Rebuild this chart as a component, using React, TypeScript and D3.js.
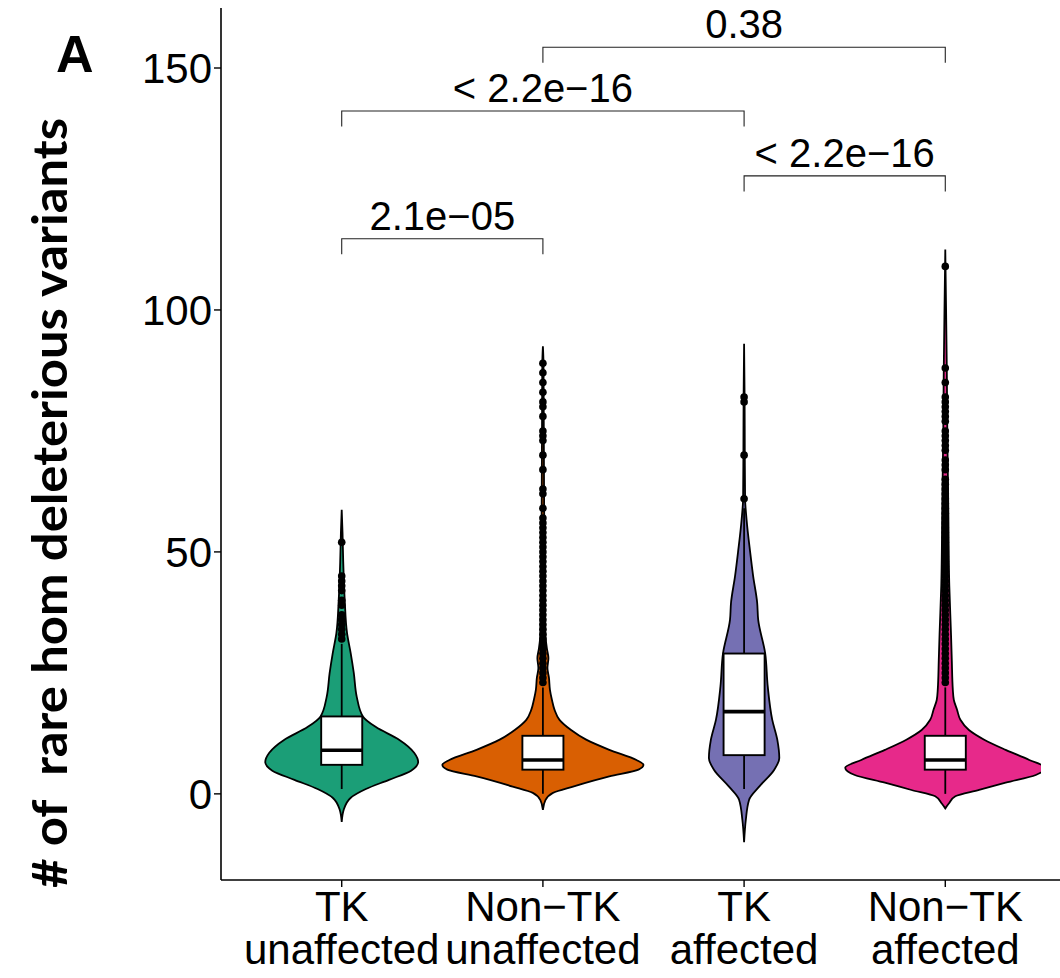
import React from "react";
import * as d3 from "d3";

// Groups along the x axis
const categories = ["TK unaffected", "Non-TK unaffected", "TK affected", "Non-TK affected"];
const tickLabelLines = [
  ["TK", "unaffected"],
  ["Non\u2212TK", "unaffected"],
  ["TK", "affected"],
  ["Non\u2212TK", "affected"],
];
const groupFills = ["#1B9E77", "#D95F02", "#7570B3", "#E7298A"];

// Kernel density profiles per group: [count, relative density]
const densityTKUnaffected: [number, number][] = [
  [-5.8, 0], [-3.3, 0.02], [-0.8, 0.09], [1, 0.24], [2.9, 0.47], [4.8, 0.69],
  [6.6, 0.76], [8.5, 0.72], [11.2, 0.57], [13.8, 0.34], [16, 0.21], [20, 0.15],
  [25, 0.12], [29, 0.09], [33.2, 0.053], [40, 0.03], [48, 0.015], [54, 0.008], [58.7, 0],
];
const densityNonTKUnaffected: [number, number][] = [
  [-3.3, 0], [-1.3, 0.025], [0.2, 0.1], [1.5, 0.3], [3.6, 0.66], [5, 0.95], [6, 1.0],
  [7, 0.93], [9.1, 0.66], [11.2, 0.43], [13.2, 0.28], [15.3, 0.165], [17.4, 0.115],
  [19.4, 0.09], [21.5, 0.07], [24, 0.06], [26, 0.045], [28, 0.055], [30, 0.04],
  [33, 0.025], [40, 0.02], [50, 0.015], [60, 0.012], [70, 0.01], [80, 0.008],
  [89, 0.006], [92.5, 0],
];
const densityTKAffected: [number, number][] = [
  [-10, 0], [-5.4, 0.017], [-1.2, 0.05], [1.5, 0.15], [5, 0.3], [7.4, 0.35],
  [11.2, 0.33], [15.3, 0.28], [22.2, 0.235], [29, 0.21], [36, 0.14], [39.5, 0.13],
  [45, 0.09], [50, 0.06], [56.6, 0.025], [61, 0.01], [70, 0.007], [82, 0.005], [93, 0],
];
const densityNonTKAffected: [number, number][] = [
  [-3, 0], [-2, 0.035], [-0.5, 0.1], [0.8, 0.336], [2.3, 0.6], [3.9, 0.9], [5.4, 0.995],
  [7, 0.835], [9.1, 0.6], [11.2, 0.387], [13.2, 0.235], [15.3, 0.15], [17.4, 0.117],
  [19.4, 0.085], [21.5, 0.075], [27.5, 0.065], [33, 0.057], [43, 0.04], [59, 0.03],
  [75, 0.02], [88, 0.015], [100, 0.008], [112.5, 0],
];
const densities = [densityTKUnaffected, densityNonTKUnaffected, densityTKAffected, densityNonTKAffected];

// Boxplot summaries: [lower whisker, Q1, median, Q3, upper whisker]
const boxTKUnaffected = [1, 6, 9, 16, 31];
const boxNonTKUnaffected = [0, 5, 7, 12, 22];
const boxTKAffected = [1, 8, 17, 29, 59];
const boxNonTKAffected = [0, 5, 7, 12, 22];
const boxes = [boxTKUnaffected, boxNonTKUnaffected, boxTKAffected, boxNonTKAffected];

// Outlying counts beyond the whiskers
const outliersTKUnaffected = [52, 45, 44, 43, 42, 40, 39, 37, 36, 35, 34, 33, 32];
const outliersNonTKUnaffected = [
  89, 87, 85, 83, 81, 80, 78, 75, 74, 73, 70, 67, 63, 62, 59, 57, 56, 55, 54, 53,
  52, 51, 50, 49, 48, 47, 46, 45, 44, 43, 42, 41, 40, 39, 38, 37, 36, 35, 34, 33,
  32, 31, 30, 29, 28, 27, 26, 25, 24, 23,
];
const outliersTKAffected = [82, 81, 70, 61];
const outliersNonTKAffected = [
  109, 88, 85, 82, 81, 80, 79, 78, 77, 75, 74, 73, 72, 71, 69, 68, 67, 65, 64, 63,
  62, 61, 60, 59, 58, 57, 56, 55, 54, 53, 52, 51, 50, 49, 48, 47, 46, 45, 44, 43,
  42, 41, 40, 39, 38, 37, 36, 35, 34, 33, 32, 31, 30, 29, 28, 27, 26, 25, 24, 23,
];
const outliers = [outliersTKUnaffected, outliersNonTKUnaffected, outliersTKAffected, outliersNonTKAffected];

const yTicks = [0, 50, 100, 150];

// Pairwise tests: group indices (1-based), bracket height and p-value label
const comparisonFrom = [1, 1, 3, 2];
const comparisonTo = [2, 3, 4, 4];
const comparisonHeight = [114.7, 141.1, 127.7, 154.3];
const comparisonLabels = ["2.1e\u221205", "< 2.2e\u221216", "< 2.2e\u221216", "0.38"];

const W = 1060;
const H = 978;
const axisLeft = 221;
const axisBottom = 880;
const panelTop = 8;
const sansFont = "'Liberation Sans', Arial, Helvetica, sans-serif";

export default function App() {
  const x = d3.scaleLinear().domain([0.4, 4.6]).range([axisLeft, 1066]);
  const y = d3.scaleLinear().domain([-17.8, 162.4]).range([axisBottom, panelTop]);
  const halfWidth = d3.scaleLinear().domain([0, 1]).range([0, (x(2) - x(1)) * 0.5]);
  const boxHalf = (x(2) - x(1)) * 0.102;
  const tip = y(0) - y(3.2);

  const violinPath = (i: number) => {
    const cx = x(i + 1);
    const area = d3
      .area<[number, number]>()
      .y((d) => y(d[0]))
      .x0((d) => cx - halfWidth(d[1]))
      .x1((d) => cx + halfWidth(d[1]))
      .curve(d3.curveMonotoneY);
    return area(densities[i]) || "";
  };

  return (
    <svg
      width={W}
      height={H}
      viewBox={`0 0 ${W} ${H}`}
      style={{ position: "absolute", left: 0, top: 0, background: "#fff" }}
    >
      <defs>
        <clipPath id="panel-clip">
          <rect x={axisLeft} y={panelTop} width={1041 - axisLeft} height={axisBottom - panelTop} />
        </clipPath>
      </defs>

      {/* violins */}
      <g clipPath="url(#panel-clip)">
        {categories.map((c, i) => (
          <path key={c} d={violinPath(i)} fill={groupFills[i]} stroke="#000" strokeWidth={1.8} />
        ))}
      </g>

      {/* boxplots with outliers */}
      {categories.map((c, i) => {
        const cx = x(i + 1);
        const [lo, q1, med, q3, hi] = boxes[i];
        return (
          <g key={c}>
            <line x1={cx} x2={cx} y1={y(q3)} y2={y(hi)} stroke="#000" strokeWidth={1.8} />
            <line x1={cx} x2={cx} y1={y(q1)} y2={y(lo)} stroke="#000" strokeWidth={1.8} />
            <rect
              x={cx - boxHalf}
              y={y(q3)}
              width={boxHalf * 2}
              height={y(q1) - y(q3)}
              fill="#fff"
              stroke="#000"
              strokeWidth={1.9}
            />
            <line x1={cx - boxHalf} x2={cx + boxHalf} y1={y(med)} y2={y(med)} stroke="#000" strokeWidth={3.6} />
            {outliers[i].map((v, k) => (
              <circle key={k} cx={cx} cy={y(v)} r={3.8} fill="#000" />
            ))}
          </g>
        );
      })}

      {/* significance brackets */}
      {comparisonLabels.map((lab, k) => {
        const x1 = x(comparisonFrom[k]);
        const x2 = x(comparisonTo[k]);
        const yy = y(comparisonHeight[k]);
        return (
          <g key={k}>
            <path
              d={`M${x1},${yy + tip}L${x1},${yy}L${x2},${yy}L${x2},${yy + tip}`}
              fill="none"
              stroke="#222"
              strokeWidth={1.1}
            />
            <text
              x={(x1 + x2) / 2}
              y={yy - 9}
              textAnchor="middle"
              fontFamily={sansFont}
              fontSize={40}
              fill="#000"
            >
              {lab}
            </text>
          </g>
        );
      })}

      {/* y axis */}
      <line x1={axisLeft} x2={axisLeft} y1={panelTop} y2={axisBottom} stroke="#000" strokeWidth={1.6} />
      {yTicks.map((t) => (
        <g key={t}>
          <line x1={axisLeft - 7} x2={axisLeft} y1={y(t)} y2={y(t)} stroke="#000" strokeWidth={1.4} />
          <text
            x={axisLeft - 9}
            y={y(t)}
            dy="0.36em"
            textAnchor="end"
            fontFamily={sansFont}
            fontSize={42}
            fill="#000"
          >
            {t}
          </text>
        </g>
      ))}

      {/* x axis */}
      <line x1={axisLeft} x2={W} y1={axisBottom} y2={axisBottom} stroke="#000" strokeWidth={1.6} />
      {categories.map((c, i) => (
        <g key={c}>
          <line x1={x(i + 1)} x2={x(i + 1)} y1={axisBottom} y2={axisBottom + 7} stroke="#000" strokeWidth={1.4} />
          {tickLabelLines[i].map((ln, j) => (
            <text
              key={j}
              x={x(i + 1)}
              y={921 + j * 43}
              textAnchor="middle"
              fontFamily={sansFont}
              fontSize={42}
              fill="#000"
            >
              {ln}
            </text>
          ))}
        </g>
      ))}

      {/* axis title */}
      <text
        transform={`translate(67, 503) rotate(-90)`}
        textAnchor="middle"
        fontFamily="Lato, 'Open Sans', sans-serif"
        fontWeight="bold"
        fontSize={47}
        textLength={770}
        lengthAdjust="spacingAndGlyphs"
        fill="#000"
        style={{ whiteSpace: "pre" }}
      >
        {"# of  rare hom deleterious variants"}
      </text>

      {/* panel tag */}
      <text x={56} y={72} fontFamily={sansFont} fontWeight="bold" fontSize={52} fill="#000">
        A
      </text>
    </svg>
  );
}
